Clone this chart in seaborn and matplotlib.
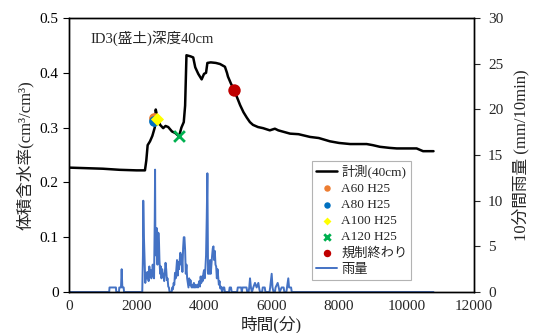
import matplotlib
matplotlib.use("Agg")
import matplotlib.pyplot as plt
import seaborn as sns
import pandas as pd

# 計測(40cm) 体積含水率
t_obs = [0, 500, 1000, 1500, 2000, 2250, 2290, 2330, 2400, 2470, 2540, 2570, 2620, 2700,
         2790, 2860, 2940, 3050, 3150, 3260, 3330, 3400, 3440, 3480, 3600, 3680, 3740,
         3830, 3930, 4000, 4060, 4100, 4200, 4350, 4475, 4620, 4680, 4710, 4800, 4890,
         4980, 5070, 5170, 5270, 5360, 5450, 5600, 5750, 5950, 6100, 6200, 6550, 6800,
         7140, 7400, 7730, 8000, 8330, 8820, 9000, 9210, 9500, 9710, 10300, 10490, 10800]
theta_obs = [0.227, 0.226, 0.225, 0.223, 0.222, 0.222, 0.240, 0.268, 0.275, 0.285, 0.300,
             0.333, 0.318, 0.305, 0.299, 0.303, 0.301, 0.293, 0.290, 0.284, 0.300, 0.310,
             0.340, 0.432, 0.430, 0.428, 0.410, 0.398, 0.388, 0.398, 0.400, 0.418, 0.419,
             0.418, 0.416, 0.411, 0.400, 0.393, 0.380, 0.369, 0.355, 0.341, 0.328, 0.318,
             0.310, 0.305, 0.301, 0.299, 0.295, 0.298, 0.295, 0.289, 0.288, 0.283, 0.281,
             0.275, 0.272, 0.270, 0.270, 0.268, 0.265, 0.263, 0.262, 0.262, 0.257, 0.257]

# 雨量 (mm/10min)
t_rain = [0, 1190, 1200, 1390, 1400, 1480, 1490, 1540, 1560, 1580, 1620, 1630, 2170, 2190,
          2200, 2220, 2240, 2260, 2280, 2300, 2320, 2340, 2360, 2380, 2400, 2420, 2440,
          2460, 2480, 2500, 2520, 2540, 2550, 2560, 2580, 2600, 2620, 2640, 2660, 2680,
          2700, 2720, 2740, 2760, 2780, 2800, 2820, 2840, 2860, 2880, 2900, 2920, 2940,
          2960, 2980, 3040, 3060, 3080, 3100, 3120, 3140, 3160, 3180, 3200, 3220, 3240,
          3260, 3280, 3300, 3320, 3340, 3360, 3380, 3400, 3420, 3440, 3460, 3480, 3500,
          3520, 3540, 3560, 3580, 3600, 3620, 3640, 3660, 3680, 3700, 3720, 3740, 3760,
          3800, 3820, 3860, 3880, 3900, 3920, 3940, 3960, 3980, 4000, 4020, 4040, 4060,
          4080, 4100, 4120, 4140, 4160, 4180, 4200, 4220, 4240, 4260, 4280, 4300, 4320,
          4340, 4360, 4380, 4400, 4420, 4440, 4460, 4480, 4500, 4520, 4540, 4560, 4600,
          4620, 4740, 4760, 4800, 4820, 4980, 5000, 5100, 5120, 5140, 5260, 5280, 5320,
          5340, 5363, 5390, 5420, 5460, 5510, 5560, 5610, 5640, 5660, 5720, 5740, 5800,
          5820, 5940, 5960, 6005, 6030, 6060, 6100, 6120, 6183, 6220, 6240, 6300, 6360,
          6380, 6440, 6460, 6497, 6520, 6580, 6600, 10800]
rain = [0, 0, 0.5, 0.5, 0, 0, 0.5, 0.5, 2.5, 0.5, 0.5, 0, 0, 4,
        10, 6, 3.5, 1.0, 2.0, 1.5, 2.2, 1.6, 1.2, 2.8, 1.7, 2.4, 1.5,
        2.0, 3.0, 2.0, 1.5, 8, 13.4, 5, 4.0, 7.0, 3.0, 6.5, 6.4, 3.5,
        2.0, 2.8, 1.5, 2.5, 1.8, 2.0, 1.2, 2.2, 3.2, 2.5, 1.3, 1.5, 0.6,
        0.5, 0, 0, 0.5, 0.3, 1.0, 0.8, 2.1, 1.5, 2.5, 3.5, 1.8, 3.3,
        2.5, 3.5, 4.3, 3.0, 4.0, 2.2, 4.8, 6.0, 6.0, 4.6, 2.0, 3.0, 1.5,
        1.0, 0.5, 1.5, 0.8, 1.3, 0.6, 0.5, 0.8, 0.5, 1.0, 0.5, 0.8, 0.5,
        0.8, 0.5, 1.2, 0.6, 1.7, 1.0, 1.7, 1.2, 2.0, 2.4, 1.5, 2.5, 4.0,
        8.0, 13.0, 2.0, 2.5, 2.0, 3.5, 2.0, 3.0, 4.0, 4.8, 5.0, 3.5, 4.5,
        3.0, 2.8, 1.5, 2.5, 1.7, 0.8, 1.2, 0.4, 0.6, 0.3, 0, 0.5, 0.5,
        0, 0, 0.5, 0.5, 0, 0, 0.5, 0.5, 0, 0.5, 0.5, 0, 0,
        0.5, 1.5, 0.5, 0, 0.5, 1.0, 0.5, 1.0, 0.3, 0, 0, 0.5, 0.5,
        0, 0, 0.5, 2.0, 0.5, 0, 0, 0.5, 1.0, 0.4, 0, 0.5, 0.5,
        0, 0, 0.5, 1.5, 0.5, 0.5, 0, 0]

# 解析結果の点
pt_labels = ["A60 H25", "A80 H25", "A100 H25", "A120 H25", "規制終わり"]
pt_t = [2520, 2530, 2600, 3270, 4890]
pt_theta = [0.318, 0.312, 0.315, 0.285, 0.369]

sns.set_style("white")
plt.rcParams['font.family'] = ['Liberation Serif', 'Noto Sans CJK JP']

df_obs = pd.DataFrame({"t": t_obs, "theta": theta_obs})
df_rain = pd.DataFrame({"t": t_rain, "rain": rain})

fig = plt.figure(figsize=(5.35, 3.33), dpi=100)
ax = fig.add_axes([0.129, 0.123, 0.757, 0.823])
ax2 = ax.twinx()

sns.lineplot(data=df_obs, x="t", y="theta", ax=ax, color="black", lw=1.8,
             sort=False, estimator=None, label="計測(40cm)", legend=False)
sns.lineplot(data=df_rain, x="t", y="rain", ax=ax2, color="#4472C4", lw=1.4,
             sort=False, estimator=None, label="雨量", legend=False)

styles = [("o", "#ED7D31", 60), ("o", "#0070C0", 60), ("D", "#FFFF00", 45),
          ("x", "#00B050", 60), ("o", "#C00000", 80)]
for i, (m, c, s) in enumerate(styles):
    kw = dict(linewidths=2) if m == "x" else dict(linewidths=0)
    ax.scatter([pt_t[i]], [pt_theta[i]], marker=m, color=c, s=s, zorder=5,
               label=pt_labels[i], **kw)

ax.set_zorder(ax2.get_zorder() + 1)
ax.patch.set_visible(False)

ax.set_xlim(0, 12000)
ax.set_ylim(0, 0.5)
ax2.set_ylim(0, 30)
ax.set_xticks(range(0, 12001, 2000))
ax.set_yticks([0, 0.1, 0.2, 0.3, 0.4, 0.5])
ax.set_yticklabels(["0", "0.1", "0.2", "0.3", "0.4", "0.5"])
ax2.set_yticks([0, 5, 10, 15, 20, 25, 30])

for a in (ax, ax2):
    for sp in a.spines.values():
        sp.set_color("black")
        sp.set_linewidth(1.0)
ax.tick_params(axis="y", direction="out", length=4, labelsize=11, colors="black")
ax.tick_params(axis="x", length=0, labelsize=11, pad=6)
ax2.tick_params(axis="y", direction="out", length=4, labelsize=11, pad=6)

ax.set_xlabel("時間(分)", fontsize=12, labelpad=2)
ax.set_ylabel("体積含水率(cm³/cm³)", fontsize=12, labelpad=4)
ax2.set_ylabel("10分間雨量 (mm/10min)", fontsize=12, labelpad=6)

ax.text(0.052, 0.91, "ID3(盛土)深度40cm", transform=ax.transAxes, fontsize=10.5)

h1, l1 = ax.get_legend_handles_labels()
h2, l2 = ax2.get_legend_handles_labels()
leg = ax.legend(h1 + h2, l1 + l2, loc="lower left", bbox_to_anchor=(0.6, 0.044),
                borderaxespad=0, fontsize=9.5, frameon=True, fancybox=False,
                edgecolor="#A0A0A0", handlelength=1.6, handletextpad=0.3,
                labelspacing=0.3, borderpad=0.3, markerscale=0.6)
leg.get_frame().set_linewidth(0.8)

fig.savefig("out.png", dpi=100)
